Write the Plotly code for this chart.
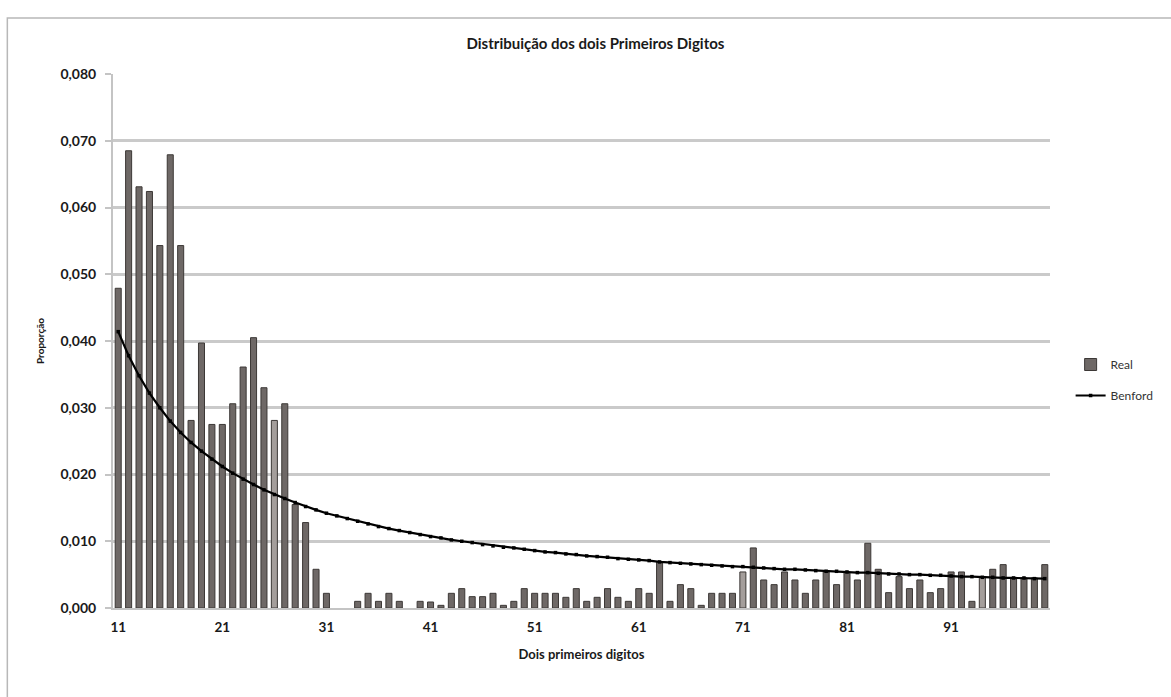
import plotly.graph_objects as go

# Category labels as printed on the chart (first bar is labelled 11)
categories = list(range(11, 101))
tick_values = [11, 21, 31, 41, 51, 61, 71, 81, 91]
tick_labels = ["11", "21", "31", "41", "51", "61", "71", "81", "91"]

# None = no bar drawn (zero proportion)
real = [
    0.0479, 0.0685, 0.0631, 0.0624, 0.0543, 0.0679, 0.0543, 0.0281, 0.0397, 0.0275,
    0.0275, 0.0306, 0.0361, 0.0405, 0.0330, 0.0281, 0.0306, 0.0155, 0.0128, 0.0058,
    0.0022, None, None, 0.0010, 0.0022, 0.0010, 0.0022, 0.0010, None, 0.0010,
    0.0009, 0.0004, 0.0022, 0.0029, 0.0017, 0.0017, 0.0022, 0.0004, 0.0010, 0.0029,
    0.0022, 0.0022, 0.0022, 0.0016, 0.0029, 0.0010, 0.0016, 0.0029, 0.0016, 0.0010,
    0.0029, 0.0022, 0.0069, 0.0010, 0.0035, 0.0029, 0.0004, 0.0022, 0.0022, 0.0022,
    0.0054, 0.0090, 0.0042, 0.0035, 0.0054, 0.0042, 0.0022, 0.0042, 0.0054, 0.0035,
    0.0054, 0.0042, 0.0097, 0.0058, 0.0023, 0.0047, 0.0029, 0.0042, 0.0023, 0.0029,
    0.0054, 0.0054, 0.0010, 0.0047, 0.0058, 0.0065, 0.0045, 0.0045, 0.0045, 0.0065,
]

benford = [
    0.0414, 0.0378, 0.0348, 0.0322, 0.0300, 0.0280, 0.0263, 0.0248, 0.0235, 0.0223,
    0.0212, 0.0202, 0.0193, 0.0185, 0.0177, 0.0170, 0.0164, 0.0158, 0.0152, 0.0147,
    0.0142, 0.0138, 0.0134, 0.0130, 0.0126, 0.0122, 0.0119, 0.0116, 0.0113, 0.0110,
    0.0107, 0.0105, 0.0102, 0.0100, 0.0098, 0.0095, 0.0093, 0.0091, 0.0090, 0.0088,
    0.0086, 0.0084, 0.0083, 0.0081, 0.0080, 0.0078, 0.0077, 0.0076, 0.0074, 0.0073,
    0.0072, 0.0071, 0.0069, 0.0068, 0.0067, 0.0066, 0.0065, 0.0064, 0.0063, 0.0062,
    0.0062, 0.0061, 0.0060, 0.0059, 0.0058, 0.0058, 0.0057, 0.0056, 0.0055, 0.0055,
    0.0054, 0.0053, 0.0053, 0.0052, 0.0051, 0.0051, 0.0050, 0.0050, 0.0049, 0.0049,
    0.0048, 0.0047, 0.0047, 0.0046, 0.0046, 0.0045, 0.0045, 0.0045, 0.0044, 0.0044,
]

# style: a few bars are rendered lighter in the original
light_bars = {16, 61, 84}
bar_colors = ["#a49e9b" if (i + 1) in light_bars else "#6e6866" for i in range(len(categories))]

FONT = "Lato"
TXT = "#1a1a1a"

fig = go.Figure()
fig.add_trace(go.Bar(
    x=categories, y=real, name="Real", legendgroup="a",
    marker=dict(color=bar_colors, line=dict(color="#3c3836", width=1)),
))
fig.add_trace(go.Scatter(
    x=categories, y=benford, name="Benford", mode="lines+markers", legendgroup="b",
    line=dict(color="#000000", width=2.2),
    marker=dict(symbol="square", size=3.5, color="#000000"),
))

fig.update_layout(
    width=1171, height=697,
    margin=dict(l=113, r=118, t=74, b=89),
    paper_bgcolor="white", plot_bgcolor="white",
    separators=",.",
    bargap=0.42,
    font=dict(family=FONT, color=TXT, size=13, weight="bold"),
    title=dict(text="Distribuição dos dois Primeiros Digitos",
               x=(591 - 113) / 940.0, xanchor="center", y=0.937, yanchor="middle",
               font=dict(family=FONT, size=15, weight="bold", color=TXT)),
    showlegend=True,
    legend=dict(x=1.022, y=(608 - 380) / 534.0, xanchor="left", yanchor="middle",
                font=dict(family=FONT, size=12, color="#333333", weight="normal"),
                traceorder="grouped", tracegroupgap=12, itemwidth=30),
    xaxis=dict(
        range=[10.5, 100.5], tickmode="array", tickvals=tick_values, ticktext=tick_labels,
        showgrid=False, showline=True, linecolor="#c4c4c4", linewidth=2,
        ticks="", tickfont=dict(family=FONT, size=13.5, weight="bold", color=TXT),
        ticklabelstandoff=6,
        title=dict(text="Dois primeiros digitos", standoff=16,
                   font=dict(family=FONT, size=13, weight="bold", color=TXT)),
        zeroline=False,
    ),
    yaxis=dict(
        range=[0, 0.080], dtick=0.010, tickformat=".3f",
        showgrid=True, gridcolor="#cacaca", gridwidth=2.5,
        showline=True, linecolor="#c4c4c4", linewidth=2,
        ticks="outside", ticklen=6, tickcolor="#c4c4c4", tickwidth=2,
        ticklabelstandoff=6,
        tickfont=dict(family=FONT, size=14, weight="bold", color=TXT),
        title=dict(text="Proporção", standoff=14,
                   font=dict(family=FONT, size=10, weight="bold", color=TXT)),
        zeroline=False,
    ),
    shapes=[
        dict(type="rect", xref="paper", yref="paper",
             x0=(7 - 113) / 940.0, x1=(1200 - 113) / 940.0,
             y0=(608 - 720) / 534.0, y1=(608 - 18) / 534.0,
             line=dict(color="#b8b8b8", width=1.5), fillcolor="rgba(0,0,0,0)",
             layer="below"),
    ],
)

fig.write_html("out.html")
